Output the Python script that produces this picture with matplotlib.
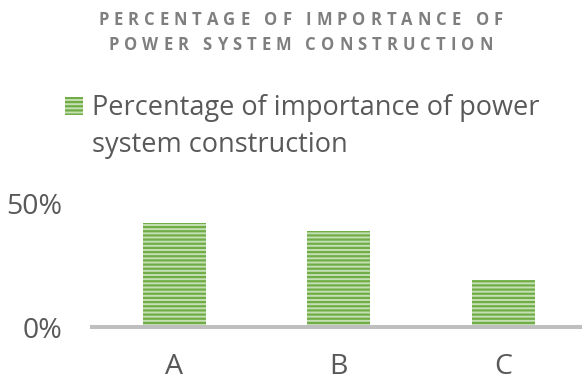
import matplotlib
matplotlib.use("Agg")
import matplotlib.pyplot as plt

categories = ["A", "B", "C"]
values = [42, 39, 19]
y_ticks = [0, 50]
y_tick_labels = ["0%", "50%"]
title_lines = ["PERCENTAGE OF IMPORTANCE OF", "POWER SYSTEM CONSTRUCTION"]
legend_lines = ["Percentage of importance of power", "system construction"]

W, H, DPI = 582, 380, 100
GREEN_LIGHT = "#c5e0b4"
GREEN = "#70ad47"
TEXT = "#595959"

plt.rcParams["font.family"] = ["Open Sans", "DejaVu Sans"]
plt.rcParams["hatch.linewidth"] = 1.6
plt.rcParams["hatch.color"] = GREEN

fig = plt.figure(figsize=(W / DPI, H / DPI), dpi=DPI)

# axes in pixel coords: left 92, baseline y=327, value 50 at y=203.5
left, right = 92, 582
base, top50 = 327.0, 203.5
ax = fig.add_axes([left / W, 1 - base / H, (right - left) / W, (base - top50) / H])
ax.set_ylim(0, 50)
ax.set_xlim(-0.5, (right - 174) / 164.5)

ax.bar(range(len(categories)), values, width=0.383, color=GREEN_LIGHT,
       edgecolor=GREEN, linewidth=0, hatch="----", clip_on=False)

for s in ["top", "right", "left"]:
    ax.spines[s].set_visible(False)
ax.spines["bottom"].set_color("#bfbfbf")
ax.spines["bottom"].set_linewidth(2.9)
ax.set_yticks(y_ticks)
ax.set_yticklabels(y_tick_labels)
ax.set_xticks(range(len(categories)))
ax.set_xticklabels(categories)
ax.tick_params(axis="both", length=0, labelsize=20.5, labelcolor=TEXT)
ax.tick_params(axis="x", pad=33.5)
ax.tick_params(axis="y", pad=21.5)
for lbl in ax.get_xticklabels():
    lbl.set_va("baseline")

# title with letter spacing, char by char
renderer = fig.canvas.get_renderer()
title_kw = dict(fontsize=12, fontweight="bold", color="#7f7f7f", va="center", ha="left")


def char_widths(line):
    ws = []
    for ch in line:
        t = fig.text(0, 0, ch, **title_kw)
        ws.append(t.get_window_extent(renderer).width if ch != " " else None)
        t.remove()
    sp = fig.text(0, 0, "n n", **title_kw)
    n2 = fig.text(0, 0, "nn", **title_kw)
    space_w = sp.get_window_extent(renderer).width - n2.get_window_extent(renderer).width
    sp.remove(); n2.remove()
    return [w if w is not None else space_w for w in ws]


w1 = char_widths(title_lines[0])
tracking = (405 - sum(w1)) / (len(title_lines[0]) - 1)
for line, yc in zip(title_lines, [20, 45.5]):
    ws = char_widths(line)
    total = sum(ws) + tracking * (len(line) - 1)
    x = 300.5 - total / 2
    for ch, w in zip(line, ws):
        if ch != " ":
            fig.text(x / W, 1 - yc / H, ch, **title_kw)
        x += w + tracking

# legend
fig.patches.append(plt.Rectangle((64.5 / W, 1 - 114.5 / H), 18 / W, 17 / H,
                                 transform=fig.transFigure, facecolor=GREEN_LIGHT,
                                 edgecolor=GREEN, linewidth=0, hatch="----"))
for line, yb in zip(legend_lines, [114.5, 152]):
    fig.text(92 / W, 1 - yb / H, line, fontsize=19.5, color=TEXT,
             va="baseline", ha="left")

fig.savefig("out.png", dpi=DPI)
